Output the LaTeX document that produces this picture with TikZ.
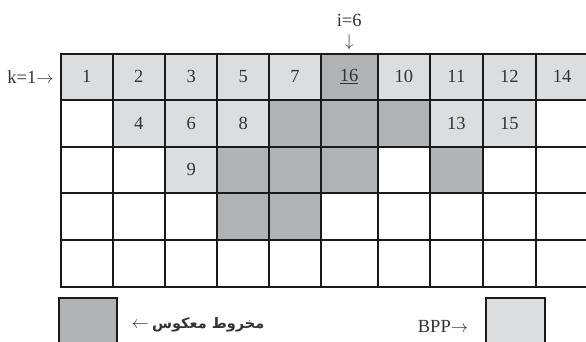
\documentclass[tikz,border=0pt]{standalone}
\usepackage{fontspec}
\setmainfont{Liberation Serif}
\newfontfamily\arabicfont[Script=Arabic]{DejaVu Sans}
\TeXXeTstate=1
\definecolor{lightg}{HTML}{DCDDDF}
\definecolor{darkg}{HTML}{B1B2B4}
\definecolor{txt}{HTML}{333333}
\definecolor{linec}{HTML}{1A1A1A}
\newcommand\rarr{{\fontsize{16}{16}\selectfont$\rightarrow$}}
\newcommand\larr{{\fontsize{16}{16}\selectfont$\leftarrow$}}
\newcommand\darr{{\fontsize{19}{19}\selectfont$\downarrow$}}
\begin{document}
\begin{tikzpicture}[x=1pt,y=-1pt,
  cell/.style={draw=linec, line width=2pt, inner sep=0pt, outer sep=0pt, rectangle},
  lbl/.style={text=txt, font=\fontsize{18.5}{20}\selectfont, inner sep=0pt}]
\useasboundingbox (0,0) rectangle (586,341);
\def\X{{60.7,112.7,165,217.3,269.3,320.7,377.7,430,482.7,536,588}}
\def\Y{{53.5,100,146.5,193,240,286.5}}
\def\F{{"lightg","lightg","lightg","lightg","lightg","darkg","lightg","lightg","lightg","lightg",
        "white","lightg","lightg","lightg","darkg","darkg","darkg","lightg","lightg","white",
        "white","white","lightg","darkg","darkg","darkg","white","darkg","white","white",
        "white","white","white","darkg","darkg","white","white","white","white","white",
        "white","white","white","white","white","white","white","white","white","white"}}
\foreach \r in {1,...,5}{
  \foreach \c in {1,...,10}{
    \pgfmathsetmacro\xa{\X[\c-1]}
    \pgfmathsetmacro\xb{\X[\c]}
    \pgfmathsetmacro\ya{\Y[\r-1]}
    \pgfmathsetmacro\yb{\Y[\r]}
    \pgfmathsetmacro\w{\xb-\xa}
    \pgfmathsetmacro\h{\yb-\ya}
    \pgfmathparse{\F[(\r-1)*10+\c-1]}
    \edef\fc{\pgfmathresult}
    \node[cell, fill=\fc, minimum width=\w pt, minimum height=\h pt]
      (c\r-\c) at ({(\xa+\xb)/2},{(\ya+\yb)/2}) {};
  }
}
% labels
\foreach \c/\t in {1/1,2/2,3/3,4/5,5/7,7/10,8/11,9/12,10/14}
  \node[lbl] (t1-\c) at (c1-\c) {\t};
\node[lbl] (t1-6) at (c1-6) {\underline{16}};
\foreach \c/\t in {2/4,3/6,4/8,8/13,9/15}
  \node[lbl] (t2-\c) at (c2-\c) {\t};
\node[lbl] (t3-3) at (c3-3) {9};
% markers
\node[lbl] (k) at (30.5,77) {k=1\rarr};
\node[lbl] (i) at (349.2,20) {i=6};
\node[lbl] (down) at (349.2,42) {\darr};
% legend
\node[cell, fill=darkg, minimum width=58.3pt, minimum height=50pt, anchor=north west] (legd) at (58.7,298) {};
\node[cell, fill=lightg, minimum width=59pt, minimum height=50pt, anchor=north west] (legl) at (485.8,298) {};
\node[lbl] (legdt) at (198,325) {\larr\,{\arabicfont\fontsize{14.5}{16}\selectfont\bfseries\beginR مخروط معکوس\endR}};
\node[lbl] (legbt) at (443,326) {BPP\rarr};
\end{tikzpicture}
\end{document}
